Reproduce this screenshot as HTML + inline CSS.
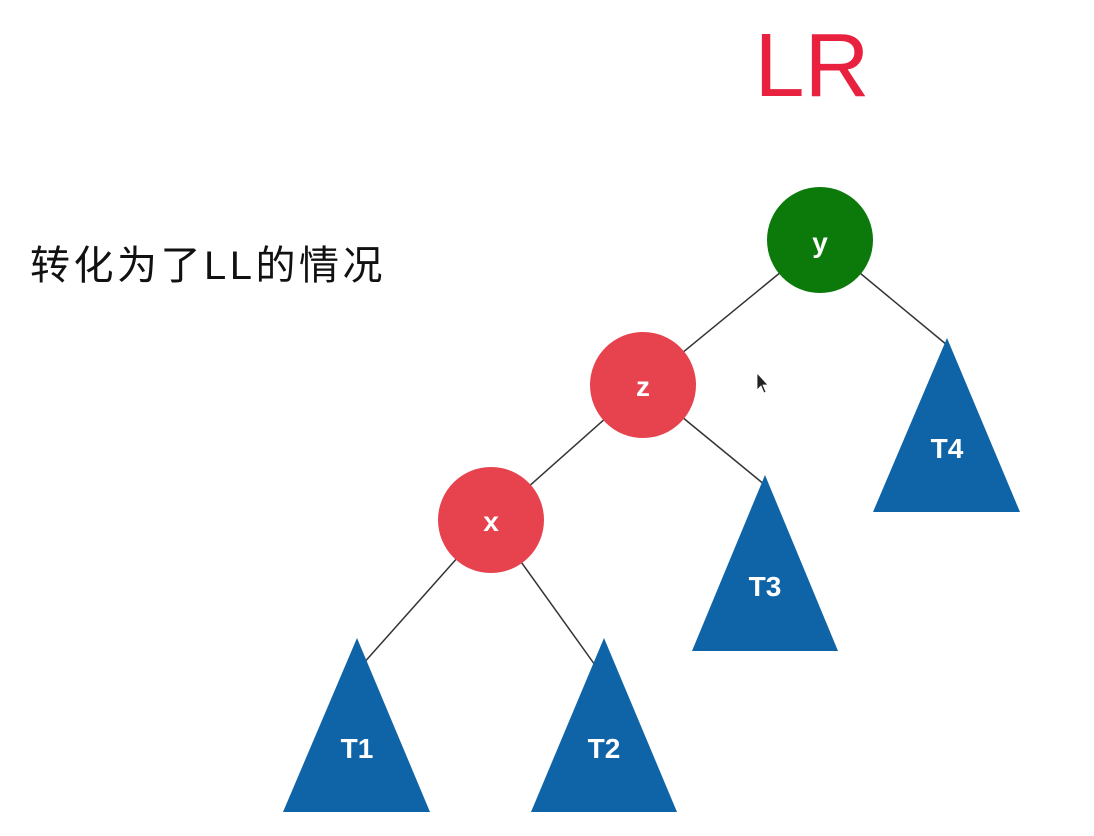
<!DOCTYPE html>
<html><head><meta charset="utf-8"><style>
html,body{margin:0;padding:0;background:#fff;}
body{width:1094px;height:836px;position:relative;overflow:hidden;}
svg{position:absolute;left:0;top:0;}
</style></head><body>
<svg width="1094" height="836" viewBox="0 0 1094 836" xmlns="http://www.w3.org/2000/svg">
<g stroke="#333" stroke-width="1.5">
<line x1="820" y1="240" x2="643" y2="385"/>
<line x1="820" y1="240" x2="947" y2="345"/>
<line x1="643" y1="385" x2="491" y2="520"/>
<line x1="643" y1="385" x2="765" y2="485"/>
<line x1="491" y1="520" x2="362" y2="665"/>
<line x1="491" y1="520" x2="595" y2="665"/>
</g>
<g fill="#0e64a6">
<polygon points="947,338 873,512 1020,512"/>
<polygon points="765,475 692,651 838,651"/>
<polygon points="357,638 283,812 430,812"/>
<polygon points="604,638 531,812 677,812"/>
</g>
<circle cx="820" cy="240" r="53" fill="#0b7a0b"/>
<circle cx="643" cy="385" r="53" fill="#e6434e"/>
<circle cx="491" cy="520" r="53" fill="#e6434e"/>
<g fill="#fff" font-family="Liberation Sans, sans-serif" font-weight="bold" font-size="28" text-anchor="middle">
<text x="820" y="252">y</text>
<text x="643" y="396">z</text>
<text x="491" y="531">x</text>
<text x="947" y="458">T4</text>
<text x="765" y="596">T3</text>
<text x="357" y="758">T1</text>
<text x="604" y="758">T2</text>
</g>
<text x="812" y="96" fill="#e8213f" font-family="Liberation Sans, sans-serif" font-size="90" text-anchor="middle">LR</text>
<text x="30" y="279" fill="#111" font-family="Liberation Sans, 'Noto Sans CJK SC', sans-serif" font-size="40" letter-spacing="3.5">转化为了LL的情况</text>
<polygon points="757,373 757,390 761,386 764,393 766,392 763,385 768,385" fill="#222" stroke="#fff" stroke-width="0.8"/>
</svg>
</body></html>
